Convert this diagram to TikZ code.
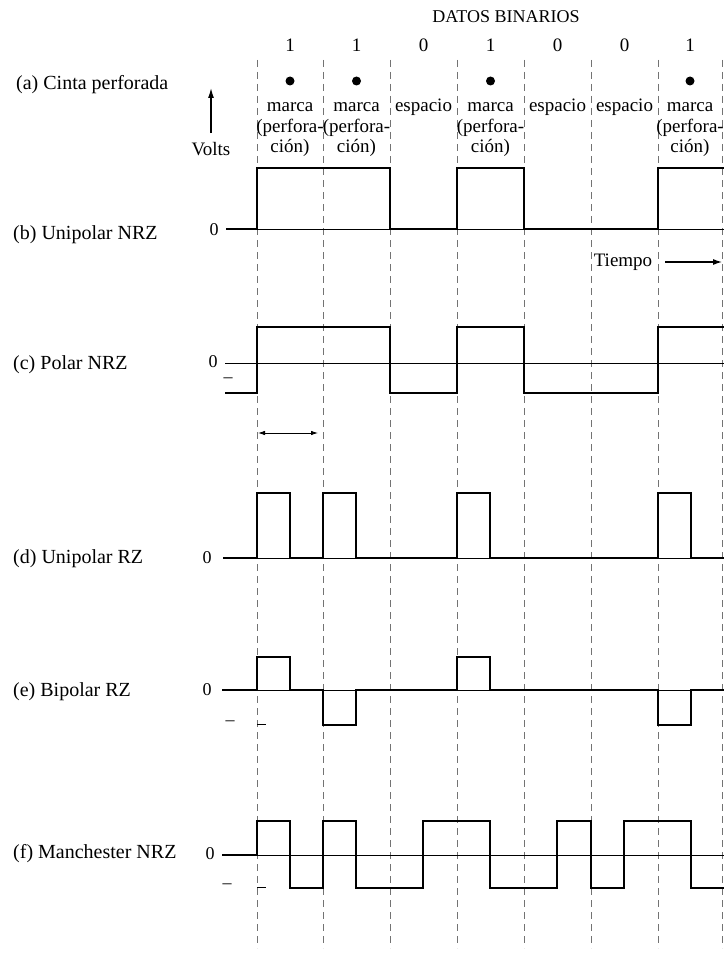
\documentclass[tikz,border=0pt]{standalone}
\usepackage{fontspec}
\setmainfont{Liberation Serif}
\usetikzlibrary{arrows.meta}
\begin{document}
\begin{tikzpicture}[x=1pt,y=-1pt,
  sig/.style={line width=2.9pt, line join=miter, line cap=butt},
  axisline/.style={line width=0.9pt},
  gridline/.style={line width=0.7pt, black!55, dash pattern=on 7pt off 5pt},
  lbl/.style={font=\fontsize{20}{22}\selectfont, anchor=west, inner sep=0pt},
  celltxt/.style={font=\fontsize{19}{20}\selectfont, anchor=base, inner sep=0pt},
  lvl/.style={font=\fontsize{18}{20}\selectfont, inner sep=0pt},
  holedot/.style={circle, fill=black, inner sep=0pt, minimum size=9pt},
]
\useasboundingbox (0,0) rectangle (723,955);
\fill[white] (0,0) rectangle (723,955);

% dashed bit boundaries
\foreach \x in {257,323,390,457,524,591,658,722}
  \draw[gridline] (\x,60) -- (\x,948);

% header
\node[celltxt, font=\fontsize{18}{20}\selectfont] (title) at (506,23) {DATOS BINARIOS};
\foreach \x/\b [count=\i] in {290/1,356.5/1,423.5/0,490.5/1,557.5/0,624.5/0,690/1}
  \node[celltxt] (bit\i) at (\x,52) {\b};

% tape holes
\foreach \x [count=\i] in {290,356.5,490.5,690}
  \node[holedot] (hole\i) at (\x,81) {};

% cell texts
\foreach \x [count=\i] in {290,356.5,490.5,690}{
  \node[celltxt] (marca\i) at (\x,112) {marca};
  \node[celltxt] (perf\i) at (\x,132) {(perfora-};
  \node[celltxt] (cion\i) at (\x,152) {ción)};
}
\foreach \x [count=\i] in {423.5,557.5,624.5}
  \node[celltxt] (esp\i) at (\x,112) {espacio};

% left labels
\node[lbl] (la) at (16,85) {(a) Cinta perforada};
\node[lbl] (lb) at (13,235) {(b) Unipolar NRZ};
\node[lbl] (lc) at (13,365) {(c) Polar NRZ};
\node[lbl] (ld) at (13,559) {(d) Unipolar RZ};
\node[lbl] (le) at (13,692) {(e) Bipolar RZ};
\node[lbl] (lf) at (13,854) {(f) Manchester NRZ};

% Volts arrow
\node[lvl, font=\fontsize{19}{20}\selectfont] (volts) at (211,149) {Volts};
\coordinate (va) at (211,133);
\coordinate (vb) at (211,88);
\draw[-{Latex[length=10pt,width=6pt]}, line width=1.3pt] (va) -- (vb);

% (b) Unipolar NRZ
\node[lvl] (zb) at (214,230) {0};
\draw[axisline] (226,229) -- (725,229);
\draw[sig] (226,229) -- (257,229) -- (257,168) -- (390,168) -- (390,229) -- (457,229)
  -- (457,168) -- (524,168) -- (524,229) -- (658,229) -- (658,168) -- (725,168);

% Tiempo
\node[lvl, font=\fontsize{19}{20}\selectfont] (tiempo) at (623,262) {Tiempo};
\coordinate (ta) at (665,262);
\coordinate (tb) at (722,262);
\draw[-{Latex[length=9pt,width=6pt]}, line width=1.2pt] (ta) -- (tb);

% (c) Polar NRZ
\node[lvl] (zc) at (213,362) {0};
\node[lvl] (mc) at (228,380) {–};
\draw[axisline] (225,363) -- (725,363);
\draw[sig] (225,393) -- (257,393) -- (257,327) -- (390,327) -- (390,393) -- (457,393)
  -- (457,327) -- (524,327) -- (524,393) -- (658,393) -- (658,327) -- (725,327);

% bit time arrow
\coordinate (ba) at (258,433);
\coordinate (bb) at (318,433);
\draw[{Latex[length=7pt,width=4.5pt]}-{Latex[length=7pt,width=4.5pt]}, line width=0.8pt] (ba) -- (bb);

% (d) Unipolar RZ
\node[lvl] (zd) at (207,558) {0};
\draw[axisline] (223,558) -- (725,558);
\draw[sig] (223,558) -- (257,558) -- (257,493) -- (290,493) -- (290,558) -- (323,558)
  -- (323,493) -- (356,493) -- (356,558) -- (457,558) -- (457,493) -- (490,493)
  -- (490,558) -- (658,558) -- (658,493) -- (691,493) -- (691,558) -- (725,558);

% (e) Bipolar RZ
\node[lvl] (ze) at (207,690) {0};
\node[lvl] (me) at (230,723) {–};
\draw[axisline] (222,690) -- (725,690);
\draw[line width=0.7pt] (257,724) -- (266,724);
\draw[sig] (222,690) -- (257,690) -- (257,657) -- (290,657) -- (290,690) -- (323,690)
  -- (323,725) -- (356,725) -- (356,690) -- (457,690) -- (457,657) -- (490,657)
  -- (490,690) -- (658,690) -- (658,725) -- (691,725) -- (691,690) -- (725,690);

% (f) Manchester NRZ
\node[lvl] (zf) at (210,854) {0};
\node[lvl] (mf) at (227,886) {–};
\draw[axisline] (222,855) -- (725,855);
\draw[line width=0.7pt] (257,887) -- (266,887);
\draw[sig] (222,855) -- (257,855) -- (257,821) -- (290,821) -- (290,888) -- (323,888)
  -- (323,821) -- (356,821) -- (356,888) -- (423,888) -- (423,821) -- (490,821)
  -- (490,888) -- (557,888) -- (557,821) -- (591,821) -- (591,888) -- (624,888)
  -- (624,821) -- (691,821) -- (691,888) -- (725,888);
\end{tikzpicture}
\end{document}
